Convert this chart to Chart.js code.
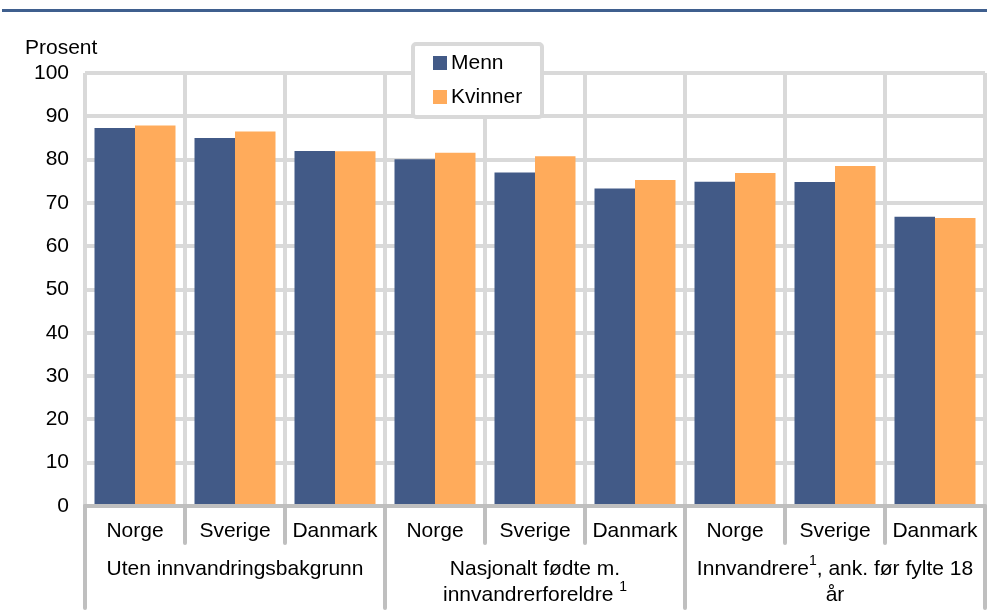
<!DOCTYPE html>
<html>
<head>
<meta charset="utf-8">
<script src="https://cdn.jsdelivr.net/npm/chart.js@4/dist/chart.umd.min.js"></script>
<style>
  html, body { margin: 0; padding: 0; background: #ffffff; }
  #wrap { width: 987px; height: 615px; position: relative; }
</style>
</head>
<body>
<div id="wrap"><canvas id="c" width="987" height="615"></canvas></div>
<script>
// ---- data ----
const countries = ['Norge', 'Sverige', 'Danmark', 'Norge', 'Sverige', 'Danmark', 'Norge', 'Sverige', 'Danmark'];
const groupLines = [
  ['Uten innvandringsbakgrunn'],
  ['Nasjonalt fødte m.', 'innvandrerforeldre ^1'],
  ['Innvandrere^1, ank. før fylte 18', 'år']
];
const groupSize = 3;
const menn = [87.3, 85.0, 82.0, 80.1, 77.0, 73.3, 74.9, 74.8, 66.8];
const kvinner = [87.9, 86.5, 81.9, 81.6, 80.8, 75.3, 76.9, 78.5, 66.5];
const seriesNames = ['Menn', 'Kvinner'];
const yTitle = 'Prosent';

const FONT = '"Liberation Sans", Arial, Helvetica, sans-serif';
const FS = 21;
const C_MENN = '#425a87';
const C_KV = '#ffab5b';
const GRID = '#d9d9d9';
const AXIS = '#bfbfbf';

function drawRich(ctx, text, cx, baseline, size) {
  const parts = text.split('^1');
  const supSize = Math.round(size * 0.68);
  let total = 0;
  const pieces = [];
  parts.forEach((p, i) => {
    ctx.font = size + 'px ' + FONT;
    const w = ctx.measureText(p).width;
    pieces.push({t: p, sup: false, w});
    total += w;
    if (i < parts.length - 1) {
      ctx.font = supSize + 'px ' + FONT;
      const ws = ctx.measureText('1').width;
      pieces.push({t: '1', sup: true, w: ws});
      total += ws;
    }
  });
  let x = cx - total / 2;
  ctx.textAlign = 'left';
  ctx.textBaseline = 'alphabetic';
  pieces.forEach(pc => {
    if (pc.sup) {
      ctx.font = supSize + 'px ' + FONT;
      ctx.fillText(pc.t, x, baseline - 10);
    } else {
      ctx.font = size + 'px ' + FONT;
      ctx.fillText(pc.t, x, baseline);
    }
    x += pc.w;
  });
}

const decor = {
  id: 'decor',
  beforeDraw(chart) {
    const ctx = chart.ctx;
    ctx.save();
    ctx.fillStyle = '#ffffff';
    ctx.fillRect(0, 0, chart.width, chart.height);
    ctx.fillStyle = '#3f5f8e';
    ctx.fillRect(2, 9, chart.width - 2, 3);
    ctx.fillStyle = '#000';
    ctx.font = FS + 'px ' + FONT;
    ctx.textAlign = 'left';
    ctx.textBaseline = 'alphabetic';
    ctx.fillText(yTitle, 25, 54);
    ctx.restore();
  },
  afterDatasetsDraw(chart) {
    const ctx = chart.ctx;
    const a = chart.chartArea;
    const xs = chart.scales.x;
    const n = countries.length;
    const step = (a.right - a.left) / n;
    ctx.save();
    ctx.strokeStyle = AXIS;
    ctx.lineWidth = 4;
    ctx.lineCap = 'round';
    ctx.beginPath();
    ctx.moveTo(a.left, a.bottom);
    ctx.lineTo(a.right, a.bottom);
    ctx.stroke();
    for (let i = 0; i <= n; i++) {
      const x = a.left + i * step;
      const major = (i % groupSize === 0);
      ctx.beginPath();
      ctx.moveTo(x, a.bottom);
      ctx.lineTo(x, major ? 608 : 543);
      ctx.stroke();
    }
    ctx.fillStyle = '#000';
    ctx.font = FS + 'px ' + FONT;
    ctx.textAlign = 'center';
    ctx.textBaseline = 'alphabetic';
    countries.forEach((c, i) => {
      ctx.fillText(c, xs.getPixelForValue(i), 537);
    });
    groupLines.forEach((lines, g) => {
      const cx = a.left + (g * groupSize + groupSize / 2) * step;
      lines.forEach((ln, k) => {
        drawRich(ctx, ln, cx, 575 + k * 26, FS);
      });
    });
    const lx = 413, ly = 44, lw = 129, lh = 73;
    ctx.fillStyle = '#fff';
    ctx.strokeStyle = GRID;
    ctx.lineWidth = 4;
    ctx.beginPath();
    if (ctx.roundRect) ctx.roundRect(lx, ly, lw, lh, 3); else ctx.rect(lx, ly, lw, lh);
    ctx.fill();
    ctx.stroke();
    const cols = [C_MENN, C_KV];
    chart.data.datasets.forEach((ds, i) => {
      const y = 56 + i * 34;
      ctx.fillStyle = cols[i];
      ctx.fillRect(433, y, 14, 14);
      ctx.fillStyle = '#000';
      ctx.font = FS + 'px ' + FONT;
      ctx.textAlign = 'left';
      ctx.textBaseline = 'middle';
      ctx.fillText(ds.label, 451, y + 7);
    });
    ctx.restore();
  }
};

new Chart(document.getElementById('c'), {
  type: 'bar',
  data: {
    labels: countries.map((c, i) => c + ' ' + i),
    datasets: [
      { label: seriesNames[0], data: menn, backgroundColor: C_MENN },
      { label: seriesNames[1], data: kvinner, backgroundColor: C_KV }
    ]
  },
  options: {
    responsive: false,
    animation: false,
    devicePixelRatio: 1,
    layout: { padding: { top: 73, bottom: 109, left: 0, right: 2 } },
    datasets: { bar: { categoryPercentage: 0.81, barPercentage: 1.0 } },
    plugins: { legend: { display: false }, tooltip: { enabled: false } },
    scales: {
      x: {
        offset: true,
        grid: { offset: true, color: GRID, lineWidth: 4, drawTicks: false },
        border: { display: false },
        ticks: { display: false },
        afterFit(s) { s.height = 0; }
      },
      y: {
        min: 0, max: 100,
        ticks: { stepSize: 10, color: '#000', font: { size: FS, family: FONT }, padding: 16 },
        grid: { color: GRID, lineWidth: 4, drawTicks: false },
        border: { display: false },
        afterFit(s) { s.width = 85; }
      }
    }
  },
  plugins: [decor]
});
</script>
</body>
</html>
